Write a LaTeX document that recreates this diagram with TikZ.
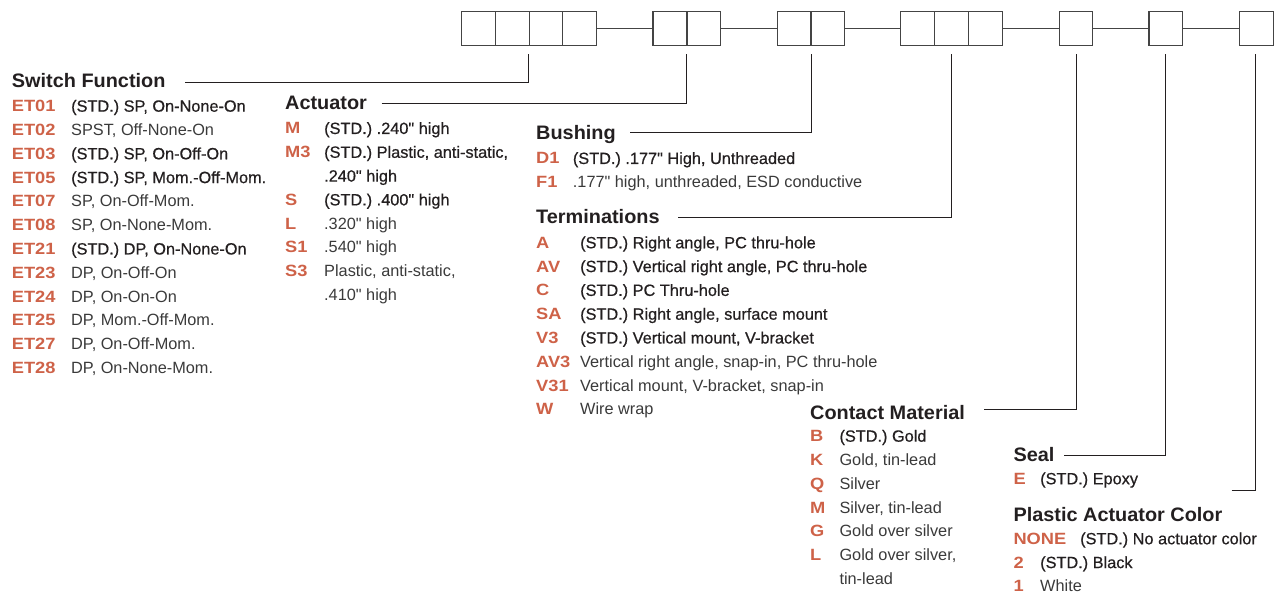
\documentclass[tikz,border=0pt]{standalone}
\usepackage{fontspec}
\setmainfont{Liberation Sans}
\newfontfamily\hdfont[FakeStretch=1.02]{Liberation Sans}
\newfontfamily\codefont[FakeStretch=1.12]{Liberation Sans}
\newfontfamily\medfont[FakeBold=0.6]{Liberation Sans}
\newfontfamily\regfont{Liberation Sans}
\definecolor{codeorange}{HTML}{CE6248}
\definecolor{txtdark}{HTML}{231F20}
\definecolor{txtreg}{HTML}{3A3A3A}
\definecolor{linegray}{HTML}{444444}
\tikzset{
  bx/.style={draw=linegray, line width=1.1pt, minimum width=33.8pt, minimum height=34pt, inner sep=0pt, fill=white},
  lnk/.style={draw=linegray, line width=1.1pt},
  lead/.style={draw=txtdark, line width=1.0pt},
  head/.style={anchor=base west, inner sep=0pt, text=txtdark, font=\hdfont\bfseries\fontsize{19.5}{22}\selectfont},
  code/.style={anchor=base west, inner sep=0pt, text=codeorange, font=\codefont\bfseries\fontsize{16.3}{19}\selectfont},
  desc/.style={anchor=base west, inner sep=0pt, text=txtreg, font=\regfont\fontsize{16.3}{19}\selectfont},
  sdesc/.style={anchor=base west, inner sep=0pt, text=txtdark, font=\medfont\fontsize{16.3}{19}\selectfont}
}
\begin{document}
\begin{tikzpicture}[x=1pt,y=-1pt]
\useasboundingbox (0,0) rectangle (1277,593);
% ---- part number boxes
\node[bx] (a1) at (478.4,28.2) {};
\node[bx] (a2) at (512.2,28.2) {};
\node[bx] (a3) at (546.0,28.2) {};
\node[bx] (a4) at (579.7,28.2) {};
\node[bx] (b1) at (669.9,28.2) {};
\node[bx] (b2) at (703.9,28.2) {};
\node[bx] (c1) at (794.0,28.2) {};
\node[bx] (c2) at (828.0,28.2) {};
\node[bx] (d1) at (917.6,28.2) {};
\node[bx] (d2) at (951.6,28.2) {};
\node[bx] (d3) at (985.6,28.2) {};
\node[bx] (e1) at (1076.0,28.2) {};
\node[bx] (f1) at (1165.9,28.2) {};
\node[bx] (g1) at (1256.2,28.2) {};
\draw[lnk] (a4.east) -- (b1.west);
\draw[lnk] (b2.east) -- (c1.west);
\draw[lnk] (c2.east) -- (d1.west);
\draw[lnk] (d3.east) -- (e1.west);
\draw[lnk] (e1.east) -- (f1.west);
\draw[lnk] (f1.east) -- (g1.west);
% ---- leader coordinates
\coordinate (swL) at (185,82.3);   \coordinate (swT) at (528.6,54.3);
\coordinate (acL) at (381.7,103.3); \coordinate (acT) at (686.9,54.3);
\coordinate (buL) at (630,132.7);  \coordinate (buT) at (811.0,54.3);
\coordinate (teL) at (678.3,217.7); \coordinate (teT) at (951.6,54.3);
\coordinate (coL) at (984,410);    \coordinate (coT) at (1076.0,54.3);
\coordinate (seL) at (1064,455);   \coordinate (seT) at (1165.9,54.3);
\coordinate (plL) at (1231.7,490.7); \coordinate (plT) at (1255.8,54.3);
\draw[lead] (swL) -| (swT);
\draw[lead] (acL) -| (acT);
\draw[lead] (buL) -| (buT);
\draw[lead] (teL) -| (teT);
\draw[lead] (coL) -| (coT);
\draw[lead] (seL) -| (seT);
\draw[lead] (plL) -| (plT);
% ---- Switch Function
\node[head] (swH) at (11.7,87.3) {Switch Function};
\node[code] (sw1c) at (11.7,111.7) {ET01};  \node[sdesc] (sw1d) at (71,111.7) {(STD.) SP, On-None-On};
\node[code] (sw2c) at (11.7,135.5) {ET02};  \node[desc] (sw2d) at (71,135.5) {SPST, Off-None-On};
\node[code] (sw3c) at (11.7,159.3) {ET03};  \node[sdesc] (sw3d) at (71,159.3) {(STD.) SP, On-Off-On};
\node[code] (sw4c) at (11.7,183.1) {ET05};  \node[sdesc] (sw4d) at (71,183.1) {(STD.) SP, Mom.-Off-Mom.};
\node[code] (sw5c) at (11.7,206.9) {ET07};  \node[desc] (sw5d) at (71,206.9) {SP, On-Off-Mom.};
\node[code] (sw6c) at (11.7,230.7) {ET08};  \node[desc] (sw6d) at (71,230.7) {SP, On-None-Mom.};
\node[code] (sw7c) at (11.7,254.5) {ET21};  \node[sdesc] (sw7d) at (71,254.5) {(STD.) DP, On-None-On};
\node[code] (sw8c) at (11.7,278.3) {ET23};  \node[desc] (sw8d) at (71,278.3) {DP, On-Off-On};
\node[code] (sw9c) at (11.7,302.1) {ET24};  \node[desc] (sw9d) at (71,302.1) {DP, On-On-On};
\node[code] (sw10c) at (11.7,325.9) {ET25}; \node[desc] (sw10d) at (71,325.9) {DP, Mom.-Off-Mom.};
\node[code] (sw11c) at (11.7,349.7) {ET27}; \node[desc] (sw11d) at (71,349.7) {DP, On-Off-Mom.};
\node[code] (sw12c) at (11.7,373.5) {ET28}; \node[desc] (sw12d) at (71,373.5) {DP, On-None-Mom.};
% ---- Actuator
\node[head] (acH) at (285,110) {Actuator};
\node[code] (ac1c) at (285,134.0) {M};  \node[sdesc] (ac1d) at (324,134.0) {(STD.) .240" high};
\node[code] (ac2c) at (285,157.8) {M3}; \node[sdesc] (ac2d) at (324,157.8) {(STD.) Plastic, anti-static,};
\node[sdesc] (ac2e) at (324,181.6) {.240" high};
\node[code] (ac3c) at (285,205.4) {S};  \node[sdesc] (ac3d) at (324,205.4) {(STD.) .400" high};
\node[code] (ac4c) at (285,229.2) {L};  \node[desc] (ac4d) at (324,229.2) {.320" high};
\node[code] (ac5c) at (285,253.0) {S1}; \node[desc] (ac5d) at (324,253.0) {.540" high};
\node[code] (ac6c) at (285,276.8) {S3}; \node[desc] (ac6d) at (324,276.8) {Plastic, anti-static,};
\node[desc] (ac6e) at (324,300.6) {.410" high};
% ---- Bushing
\node[head] (buH) at (536,140) {Bushing};
\node[code] (bu1c) at (536,164.0) {D1}; \node[sdesc] (bu1d) at (572.7,164.0) {(STD.) .177" High, Unthreaded};
\node[code] (bu2c) at (536,187.8) {F1}; \node[desc] (bu2d) at (572.7,187.8) {.177" high, unthreaded, ESD conductive};
% ---- Terminations
\node[head] (teH) at (536,223.3) {Terminations};
\node[code] (te1c) at (536,248.3) {A};   \node[sdesc] (te1d) at (580,248.3) {(STD.) Right angle, PC thru-hole};
\node[code] (te2c) at (536,272.1) {AV};  \node[sdesc] (te2d) at (580,272.1) {(STD.) Vertical right angle, PC thru-hole};
\node[code] (te3c) at (536,295.9) {C};   \node[sdesc] (te3d) at (580,295.9) {(STD.) PC Thru-hole};
\node[code] (te4c) at (536,319.7) {SA};  \node[sdesc] (te4d) at (580,319.7) {(STD.) Right angle, surface mount};
\node[code] (te5c) at (536,343.5) {V3};  \node[sdesc] (te5d) at (580,343.5) {(STD.) Vertical mount, V-bracket};
\node[code] (te6c) at (536,367.3) {AV3}; \node[desc] (te6d) at (580,367.3) {Vertical right angle, snap-in, PC thru-hole};
\node[code] (te7c) at (536,391.1) {V31}; \node[desc] (te7d) at (580,391.1) {Vertical mount, V-bracket, snap-in};
\node[code] (te8c) at (536,414.9) {W};   \node[desc] (te8d) at (580,414.9) {Wire wrap};
% ---- Contact Material
\node[head] (coH) at (810,419) {Contact Material};
\node[code] (co1c) at (810,441.7) {B}; \node[sdesc] (co1d) at (839.3,441.7) {(STD.) Gold};
\node[code] (co2c) at (810,465.5) {K}; \node[desc] (co2d) at (839.3,465.5) {Gold, tin-lead};
\node[code] (co3c) at (810,489.3) {Q}; \node[desc] (co3d) at (839.3,489.3) {Silver};
\node[code] (co4c) at (810,513.1) {M}; \node[desc] (co4d) at (839.3,513.1) {Silver, tin-lead};
\node[code] (co5c) at (810,536.9) {G}; \node[desc] (co5d) at (839.3,536.9) {Gold over silver};
\node[code] (co6c) at (810,560.7) {L}; \node[desc] (co6d) at (839.3,560.7) {Gold over silver,};
\node[desc] (co6e) at (839.3,584.5) {tin-lead};
% ---- Seal
\node[head] (seH) at (1013.3,461) {Seal};
\node[code] (se1c) at (1013.3,484.3) {E}; \node[sdesc] (se1d) at (1040,484.3) {(STD.) Epoxy};
% ---- Plastic Actuator Color
\node[head] (plH) at (1013.3,521.7) {Plastic Actuator Color};
\node[code] (pl1c) at (1013.3,544.3) {NONE}; \node[sdesc] (pl1d) at (1080,544.3) {(STD.) No actuator color};
\node[code] (pl2c) at (1013.3,568.1) {2};    \node[sdesc] (pl2d) at (1040,568.1) {(STD.) Black};
\node[code] (pl3c) at (1013.3,591.9) {1};    \node[desc] (pl3d) at (1040,591.9) {White};
\end{tikzpicture}
\end{document}
